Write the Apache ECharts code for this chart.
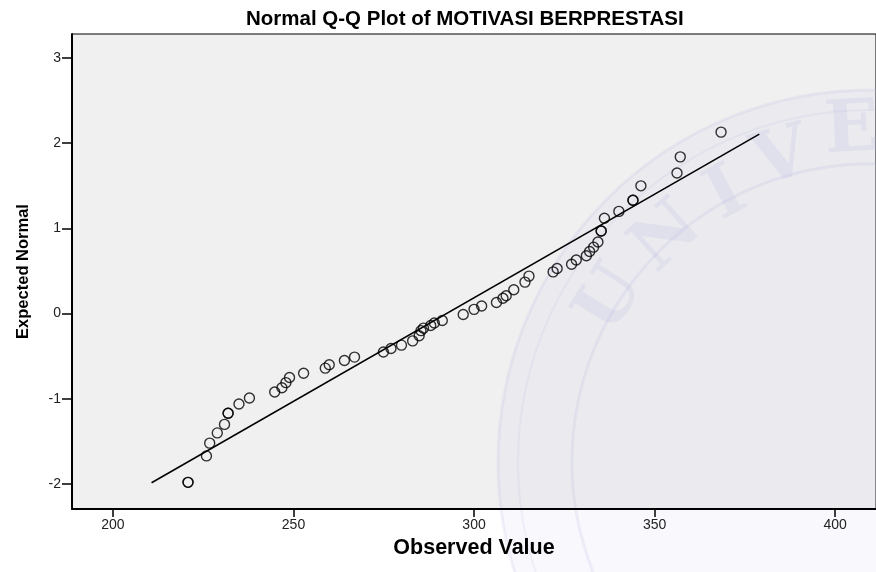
<!DOCTYPE html>
<html>
<head>
<meta charset="utf-8">
<title>Normal Q-Q Plot</title>
<script src="https://cdn.jsdelivr.net/npm/echarts@6/dist/echarts.min.js"></script>
<style>
  html, body { margin: 0; padding: 0; background: #fff; }
  #chart { width: 876px; height: 572px; }
</style>
</head>
<body>
<div id="chart"></div>
<script>
const observed = [
  220.8, 220.8, 225.9, 226.8, 228.9, 230.9, 231.9, 231.9, 234.9, 237.8,
  244.8, 246.8, 247.9, 248.9, 252.8, 258.8, 259.9, 264.1, 266.9, 274.9,
  277.0, 279.9, 283.0, 284.8, 285.3, 286.0, 288.0, 289.0, 291.2, 297.0,
  300.0, 302.1, 306.2, 308.0, 308.9, 311.0, 314.1, 315.2, 321.9, 323.0,
  327.0, 328.3, 331.1, 332.0, 333.1, 334.3, 335.2, 335.2, 336.1, 340.1,
  344.0, 344.0, 346.2, 356.2, 357.1, 368.4
]
const expected = [
  -1.98, -1.98, -1.67, -1.52, -1.40, -1.30, -1.17, -1.17, -1.06, -0.99,
  -0.92, -0.87, -0.81, -0.75, -0.70, -0.64, -0.60, -0.55, -0.51, -0.45,
  -0.41, -0.37, -0.32, -0.26, -0.20, -0.17, -0.14, -0.11, -0.08, -0.01,
  0.05, 0.09, 0.13, 0.18, 0.21, 0.28, 0.37, 0.44, 0.49, 0.53,
  0.58, 0.63, 0.68, 0.73, 0.78, 0.84, 0.97, 0.97, 1.12, 1.20,
  1.33, 1.33, 1.50, 1.65, 1.84, 2.13
]

// reference line end points
const lineX = [210.7, 379.0]
const lineY = [-1.985, 2.108]

const xTicks = [200, 250, 300, 350, 400]
const yTicks = [-2, -1, 0, 1, 2, 3]

const font = '"Liberation Sans", Arial, sans-serif'

const chart = echarts.init(document.getElementById('chart'))

// faint seal watermark in the lower right of the original image
const sealCx = 870
const sealCy = 462
const sealRings = [
  { r: 372, fill: 'rgba(190,190,235,0.11)', stroke: 'rgba(175,175,225,0.16)', w: 3 },
  { r: 352, fill: 'transparent', stroke: 'rgba(175,175,225,0.12)', w: 2 },
  { r: 298, fill: 'rgba(255,255,255,0.06)', stroke: 'rgba(175,175,225,0.16)', w: 3 },
]
const sealLetters = [
  ['U', 612, 300], ['N', 668, 238], ['I', 727, 196], ['V', 782, 160], ['E', 852, 132],
]

const watermark = [
  ...sealRings.map((c) => ({
    type: 'circle',
    silent: true,
    z: 1,
    shape: { cx: sealCx, cy: sealCy, r: c.r },
    style: { fill: c.fill, stroke: c.stroke, lineWidth: c.w },
  })),
  ...sealLetters.map(([ch, x, y]) => ({
    type: 'text',
    silent: true,
    z: 1,
    x,
    y,
    rotation: Math.atan2(sealCx - x, sealCy - y),
    style: {
      text: ch,
      font: 'bold 72px "DejaVu Serif", serif',
      fill: 'rgba(175,175,225,0.16)',
      align: 'center',
      verticalAlign: 'middle',
    },
  })),
]

const option = {
  backgroundColor: '#ffffff',
  animation: false,
  title: {
    text: 'Normal Q-Q Plot of MOTIVASI BERPRESTASI',
    left: 241,
    top: 4,
    textStyle: {
      fontFamily: font,
      fontSize: 20.5,
      fontWeight: 'bold',
      color: '#000',
    },
  },
  graphic: watermark,
  grid: {
    left: 72,
    top: 34,
    right: -2,
    bottom: 63,
    show: true,
    backgroundColor: '#f0f0f0',
    borderColor: '#000',
    borderWidth: 1,
  },
  xAxis: {
    type: 'value',
    z: 5,
    min: 188.67,
    max: 411.3,
    name: 'Observed Value',
    nameLocation: 'middle',
    nameGap: 28,
    nameTextStyle: {
      fontFamily: font,
      fontSize: 21.5,
      fontWeight: 'bold',
      color: '#000',
    },
    axisLine: { onZero: false, lineStyle: { color: '#000', width: 2 } },
    axisTick: { customValues: xTicks, length: 8, lineStyle: { color: '#000', width: 1.5 } },
    axisLabel: {
      customValues: xTicks,
      fontFamily: font,
      fontSize: 14,
      color: '#222',
      margin: 9,
    },
    splitLine: { show: false },
  },
  yAxis: {
    type: 'value',
    z: 5,
    min: -2.293,
    max: 3.282,
    name: 'Expected Normal',
    nameLocation: 'middle',
    nameGap: 40,
    nameTextStyle: {
      fontFamily: font,
      fontSize: 16.5,
      fontWeight: 'bold',
      color: '#000',
    },
    axisLine: { onZero: false, lineStyle: { color: '#000', width: 2 } },
    axisTick: { customValues: yTicks, length: 10, lineStyle: { color: '#000', width: 1.5 } },
    axisLabel: {
      customValues: yTicks,
      fontFamily: font,
      fontSize: 14,
      color: '#222',
      margin: 11,
    },
    splitLine: { show: false },
  },
  series: [
    {
      type: 'line',
      data: lineX.map((x, i) => [x, lineY[i]]),
      showSymbol: false,
      lineStyle: { color: '#000', width: 1.5 },
      z: 3,
    },
    {
      type: 'scatter',
      data: observed.map((x, i) => [x, expected[i]]),
      symbol: 'circle',
      symbolSize: 10,
      itemStyle: { color: 'rgba(0,0,0,0)', borderColor: '#000', borderWidth: 1.4 },
      z: 4,
    },
  ],
}

chart.setOption(option)
</script>
</body>
</html>
